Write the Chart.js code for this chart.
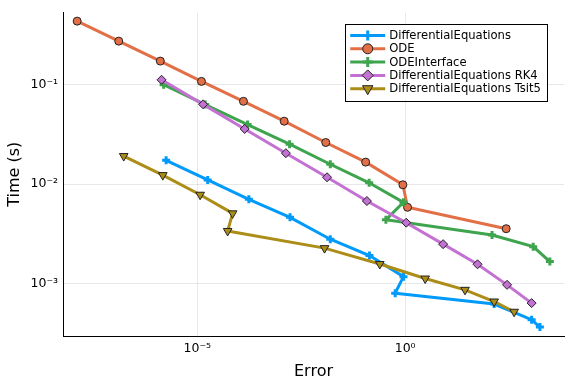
<!DOCTYPE html>
<html>
<head>
<meta charset="utf-8">
<script src="https://cdn.jsdelivr.net/npm/chart.js@4.4.1/dist/chart.umd.min.js"></script>
<style>
  html, body { margin: 0; padding: 0; background: #fff; }
  canvas { display: block; }
</style>
</head>
<body>
<canvas id="chart" width="576" height="384"></canvas>
<script>
// series: error (x) and time in seconds (y)
const seriesNames = ["DifferentialEquations", "ODE", "ODEInterface", "DifferentialEquations RK4", "DifferentialEquations Tsit5"];

const deErr   = [1.78e-6, 1.78e-5, 1.74e-4, 1.70e-3, 1.58e-2, 0.138, 0.91, 0.575, 138, 1100, 1740];
const deTime  = [0.0173, 0.011, 0.00703, 0.00464, 0.0028, 0.00192, 0.00118, 0.000807, 0.000627, 0.000437, 0.000369];

const odeErr  = [1.29e-8, 1.29e-7, 1.29e-6, 1.26e-5, 1.29e-4, 1.23e-3, 1.23e-2, 0.112, 0.881, 1.14, 269];
const odeTime = [0.43, 0.271, 0.171, 0.107, 0.0676, 0.0427, 0.0261, 0.0166, 0.00984, 0.00585, 0.00357];

const odeiErr  = [1.55e-6, 1.55e-5, 1.62e-4, 1.66e-3, 1.58e-2, 0.136, 0.91, 0.344, 123, 1200, 3020];
const odeiTime = [0.0993, 0.0626, 0.0395, 0.0251, 0.0158, 0.0103, 0.00656, 0.0044, 0.00309, 0.00236, 0.00167];

const rk4Err  = [1.38e-6, 1.38e-5, 1.38e-4, 1.35e-3, 1.32e-2, 0.12, 1.06, 8.18, 55, 282, 1100];
const rk4Time = [0.111, 0.063, 0.0357, 0.0204, 0.0117, 0.00676, 0.0041, 0.0025, 0.00157, 0.000977, 0.000641];

const tsitErr  = [1.70e-7, 1.48e-6, 1.17e-5, 7.08e-5, 5.37e-5, 1.15e-2, 0.245, 3.03, 27.5, 138, 417];
const tsitTime = [0.0191, 0.0123, 0.00782, 0.00509, 0.00339, 0.00228, 0.00158, 0.00113, 0.000871, 0.000665, 0.000525];

const xTicks = [1e-5, 1];
const xTickLabels = ["10⁻⁵", "10⁰"];
const yTicks = [1e-3, 1e-2, 1e-1];
const yTickLabels = ["10⁻³", "10⁻²", "10⁻¹"];

const colors = ["#009AFA", "#E36F47", "#3EA44E", "#C371D2", "#AC8D18"];
const FONT = "'DejaVu Sans', sans-serif";

function pts(xs, ys) {
  return xs.map((x, i) => ({ x: x, y: ys[i] }));
}

function mkSet(i, data, style) {
  const c = colors[i];
  const cross = style.pointStyle === "cross";
  return Object.assign({
    label: seriesNames[i],
    data: data,
    showLine: true,
    borderColor: c,
    borderWidth: 3,
    backgroundColor: c,
    pointBackgroundColor: c,
    pointBorderColor: cross ? c : "#222",
    pointBorderWidth: cross ? 3 : 1,
    pointRadius: 4,
    order: 4 - i
  }, style);
}

const datasets = [
  mkSet(0, pts(deErr, deTime), { pointStyle: "cross", pointRadius: 4 }),
  mkSet(1, pts(odeErr, odeTime), { pointStyle: "circle", pointRadius: 4 }),
  mkSet(2, pts(odeiErr, odeiTime), { pointStyle: "cross", pointRadius: 4 }),
  mkSet(3, pts(rk4Err, rk4Time), { pointStyle: "rectRot", pointRadius: 4.5 }),
  mkSet(4, pts(tsitErr, tsitTime), { pointStyle: "triangle", pointRotation: 180, pointRadius: 5 })
];

// legend box in the top right corner of the plot, like the original
const boxLegend = {
  id: "boxLegend",
  afterDatasetsDraw(chart) {
    const ctx = chart.ctx;
    const area = chart.chartArea;
    ctx.save();
    ctx.font = "11.6px " + FONT;
    let maxW = 0;
    seriesNames.forEach(n => { maxW = Math.max(maxW, ctx.measureText(n).width); });
    const rowH = 13.3;
    const w = 44 + maxW + 6;
    const h = rowH * seriesNames.length + 10;
    const x0 = area.right - 17 - w;
    const y0 = area.top + 11;
    ctx.fillStyle = "#fff";
    ctx.fillRect(x0, y0, w, h);
    ctx.strokeStyle = "#000";
    ctx.lineWidth = 1;
    ctx.strokeRect(Math.round(x0) + 0.5, Math.round(y0) + 0.5, Math.round(w), Math.round(h));
    chart.data.datasets.forEach((ds, i) => {
      const y = y0 + 12 + i * rowH;
      ctx.strokeStyle = ds.borderColor;
      ctx.lineWidth = 3;
      ctx.beginPath();
      ctx.moveTo(x0 + 5, y);
      ctx.lineTo(x0 + 40, y);
      ctx.stroke();
      ctx.fillStyle = ds.pointBackgroundColor;
      ctx.strokeStyle = ds.pointBorderColor;
      ctx.lineWidth = ds.pointBorderWidth;
      Chart.helpers.drawPoint(ctx, {
        pointStyle: ds.pointStyle,
        rotation: ds.pointRotation || 0,
        radius: ds.pointStyle === "circle" ? 5 : ds.pointRadius + 1,
        borderWidth: ds.pointBorderWidth
      }, x0 + 22.5, y);
      ctx.fillStyle = "#000";
      ctx.textBaseline = "middle";
      ctx.textAlign = "left";
      ctx.fillText(ds.label, x0 + 44, y + 0.5);
    });
    ctx.restore();
  }
};

const ctx = document.getElementById("chart").getContext("2d");
new Chart(ctx, {
  type: "scatter",
  data: { datasets: datasets },
  plugins: [boxLegend],
  options: {
    responsive: false,
    animation: false,
    devicePixelRatio: 1,
    layout: { padding: { left: 0, right: 12, top: 12, bottom: 0 } },
    plugins: {
      legend: { display: false },
      tooltip: { enabled: false }
    },
    scales: {
      x: {
        type: "logarithmic",
        min: Math.pow(10, -8.23),
        max: Math.pow(10, 3.82),
        afterBuildTicks: s => { s.ticks = xTicks.map(v => ({ value: v })); },
        afterFit: s => { s.height = 48; },
        ticks: {
          color: "#000",
          font: { family: FONT, size: 12.5 },
          padding: 5,
          maxRotation: 0,
          callback: v => xTickLabels[xTicks.indexOf(v)]
        },
        grid: { color: "rgba(0,0,0,0.09)", lineWidth: 1, drawTicks: false },
        border: { color: "#000", width: 1 },
        title: {
          display: true,
          text: "Error",
          color: "#000",
          font: { family: FONT, size: 16 },
          padding: { top: 4, bottom: 3 }
        }
      },
      y: {
        type: "logarithmic",
        min: Math.pow(10, -3.52),
        max: Math.pow(10, -0.28),
        afterBuildTicks: s => { s.ticks = yTicks.map(v => ({ value: v })); },
        afterFit: s => { s.width = 63; },
        ticks: {
          color: "#000",
          font: { family: FONT, size: 12.5 },
          padding: 5,
          callback: v => yTickLabels[yTicks.indexOf(v)]
        },
        grid: { color: "rgba(0,0,0,0.09)", lineWidth: 1, drawTicks: false },
        border: { color: "#000", width: 1 },
        title: {
          display: true,
          text: "Time (s)",
          color: "#000",
          font: { family: FONT, size: 16 },
          padding: { top: 5, bottom: 4 }
        }
      }
    }
  }
});
</script>
</body>
</html>
